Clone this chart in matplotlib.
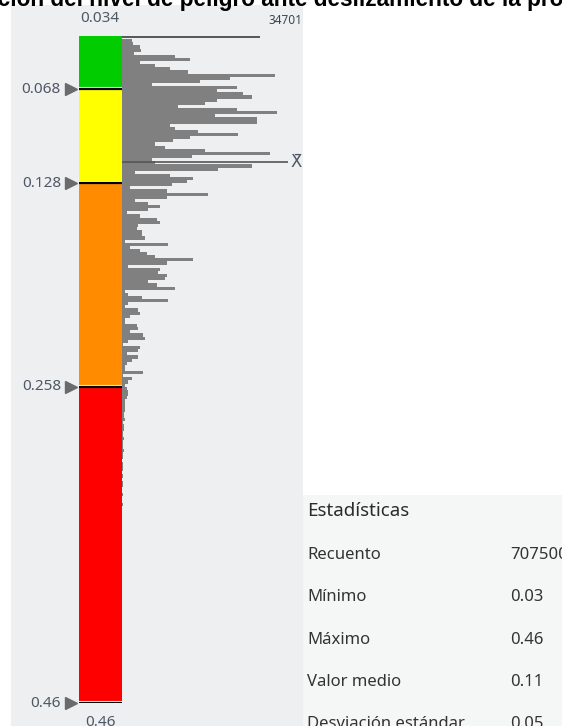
import matplotlib
matplotlib.use("Agg")
import matplotlib.pyplot as plt
from matplotlib.patches import Rectangle

# hazard classes (value breaks and colours)
breaks = [0.034, 0.068, 0.128, 0.258, 0.46]
break_labels = ["0.034", "0.068", "0.128", "0.258", "0.46"]
class_colors = ["#00cc00", "#ffff00", "#ff8c00", "#ff0000"]

# histogram: spike at the minimum, then counts (thousands) per 0.002 bin
min_value = 0.034
spike_count = 34701
bin_width = 0.002
counts_k = [
    2.5, 2.8, 4.5, 4.8, 3.0, 13.3, 17.1, 4.5, 8.3, 12.1,
    16.6, 38.5, 27.2, 19.6, 7.5, 28.9, 23.9, 30.4, 32.7, 23.9,
    20.9, 14.1, 28.9, 39.0, 23.4, 34.0, 34.0, 12.1, 13.3, 19.1,
    29.2, 17.1, 12.8, 8.3, 10.8, 20.9, 37.2, 17.6, 7.5, 8.3,
    32.7, 24.1, 3.3, 12.1, 17.8, 16.3, 12.6, 2.0, 11.3, 21.6,
    11.3, 3.3, 6.5, 9.5, 6.5, 1.3, 4.5, 8.8, 9.5, 4.0,
    3.8, 5.0, 5.0, 5.8, 0.8, 11.6, 2.0, 4.5, 6.3, 8.3,
    17.8, 11.3, 1.5, 9.5, 9.0, 11.3, 10.8, 6.5, 8.8, 13.3,
    0.8, 1.5, 5.0, 11.6, 1.5, 0.8, 4.0, 4.5, 2.0, 0.8,
    0.8, 3.8, 4.0, 2.0, 5.3, 5.8, 1.5, 0.3, 4.5, 4.0,
    1.3, 4.0, 2.5, 1.3, 0.8, 0.8, 5.3, 0.3, 2.5, 1.5,
    0.8, 1.3, 1.5, 1.5, 1.3, 0.8, 0.8, 0.8, 0.8, 0.5,
    0.5, 0.8, 0.3, 0.5, 0.5, 0.3, 0.3, 0.5, 0.3, 0.3,
    0.3, 0.5, 0.3, 0.3, 0.0, 0.3, 0.3, 0.3, 0.0, 0.3,
    0.0, 0.3, 0.3, 0.0, 0.0, 0.3, 0.0, 0.0, 0.3, 0.0,
]
mean_value = 0.1145

stat_names = ["Recuento", "Mínimo", "Máximo", "Valor medio", "Desviación estándar"]
stat_values = ["707500", "0.03", "0.46", "0.11", "0.05"]

title = "Distribución del nivel de peligro ante deslizamiento de la provincia"

W, H = 562, 726
TXT = "#4e5866"
FONT = "Noto Sans"


def box(x0, y0, x1, y1):
    return [x0 / W, 1 - y1 / H, (x1 - x0) / W, (y1 - y0) / H]


fig = plt.figure(figsize=(W / 100, H / 100), dpi=100)
fig.patch.set_facecolor("white")
fig.patches.append(Rectangle((11 / W, 0), 292 / W, 721 / H, transform=fig.transFigure,
                             facecolor="#eeeff1", edgecolor="none", zorder=-5))
fig.patches.append(Rectangle((303 / W, 0), 259 / W, 231 / H, transform=fig.transFigure,
                             facecolor="#f5f6f6", edgecolor="none", zorder=-5))

# colour bar with class breaks
cax = fig.add_axes(box(79, 36, 122, 703))
cax.set_xlim(0, 1)
cax.set_ylim(breaks[-1], breaks[0])
cax.axis("off")
for lo, hi, c in zip(breaks[:-1], breaks[1:], class_colors):
    cax.bar(0.5, hi - lo, bottom=lo, width=1, color=c, linewidth=0)
tr = cax.get_yaxis_transform()
for b, lab in zip(breaks[1:], break_labels[1:]):
    cax.axhline(b - 0.0012, color="white", lw=0.8)
    cax.axhline(b, color="black", lw=1.6)
    cax.plot(-0.19, b, marker=">", ms=8, color="#6b6b6b", transform=tr, clip_on=False)
    cax.text(-0.42, b, lab, ha="right", va="center", color=TXT, fontsize=11, family=FONT,
             transform=tr)
fig.text(100 / W, 1 - 18 / H, break_labels[0], ha="center", va="center", color=TXT,
         fontsize=11, family=FONT)
fig.text(100 / W, 1 - 723 / H, break_labels[-1], ha="center", va="center", color=TXT,
         fontsize=11, family=FONT)

# histogram of pixel counts
hax = fig.add_axes(box(122, 36, 303, 703))
hax.set_facecolor("none")
hax.set_ylim(breaks[-1], breaks[0])
hax.set_xlim(0, 181 * 251.5)
hax.axis("off")
edges = [min_value + (i + 1) * bin_width for i in range(len(counts_k))]
hax.barh(edges, [c * 1000 for c in counts_k], height=bin_width, align="edge",
         color="#808080", linewidth=0)
hax.hlines(min_value + 0.0006, 0, spike_count, color="#4a4a4a", lw=1.3)
fig.text(302 / W, 1 - 21 / H, str(spike_count), ha="right", va="center", color="#3a4656",
         fontsize=8.5, family=FONT)
hax.hlines(mean_value, 0, 41750, color="#555555", lw=1.2)
hax.text(42300, mean_value, "X\u0304", ha="left", va="center", color=TXT, fontsize=12,
         family="DejaVu Sans", clip_on=False)

# statistics table
fig.text(307 / W, 1 - 511 / H, "Estadísticas", ha="left", va="center", color="#2b2b2b",
         fontsize=13.5, family=FONT)
for i, (name, val) in enumerate(zip(stat_names, stat_values)):
    y = 1 - (555 + i * 42.3) / H
    fig.text(307 / W, y, name, ha="left", va="center", color="#333333", fontsize=12, family=FONT)
    fig.text(510 / W, y, val, ha="left", va="center", color="#333333", fontsize=12, family=FONT)

fig.text(-88 / W, 1 - 6 / H, title, ha="left", va="baseline", color="black", fontsize=16.3,
         fontweight="bold", family="Liberation Sans")

fig.savefig("out.png", dpi=100)
